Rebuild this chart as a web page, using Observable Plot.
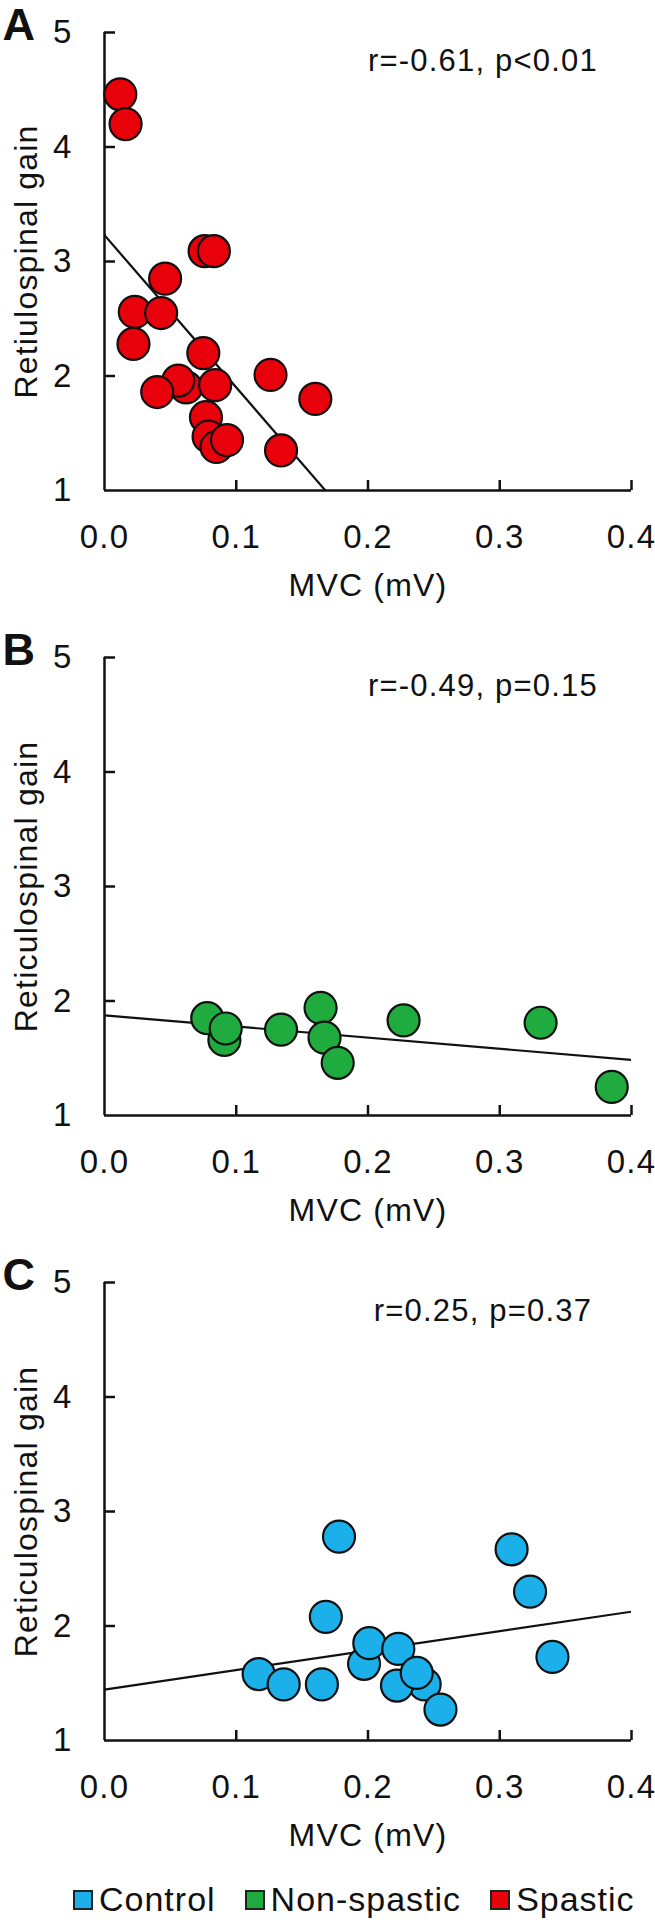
<!DOCTYPE html>
<html>
<head>
<meta charset="utf-8">
<script src="https://cdn.jsdelivr.net/npm/d3@7"></script>
<script src="https://cdn.jsdelivr.net/npm/@observablehq/plot@0.6"></script>
<style>
  html, body { margin: 0; padding: 0; background: #fff; }
  body { width: 655px; font-family: "Liberation Sans", Arial, sans-serif; }
  svg { display: block; }
  #legend { height: 49px; display: flex; align-items: center; padding-left: 73px; font-size: 34px; letter-spacing: 1px; color: #111; white-space: nowrap; }
  .item { display: flex; align-items: center; margin-right: 29px; flex-shrink: 0; }
  .sw { width: 16px; height: 16px; border: 2px solid #222; margin-right: 6px; flex-shrink: 0; }
</style>
</head>
<body>
<div id="chart"></div>
<div id="legend"></div>
<script>
// ---- data ----
const panelLetters = ["A", "B", "C"];
const yLabels = ["Retiulospinal gain", "Reticulospinal gain", "Reticulospinal gain"];
const statsText = ["r=-0.61, p<0.01", "r=-0.49, p=0.15", "r=0.25, p=0.37"];
const groupNames = ["Spastic", "Non-spastic", "Control"];
const groupColors = ["#e8000b", "#1fab3e", "#1cb0ea"];
const legendOrder = ["Control", "Non-spastic", "Spastic"];
const xLabel = "MVC (mV)";
const xTicks = [0, 0.1, 0.2, 0.3, 0.4];
const yTicks = [1, 2, 3, 4, 5];

// Panel A: Spastic
const spasticMVC  = [0.012, 0.016, 0.076, 0.083, 0.046, 0.023, 0.043, 0.022, 0.075, 0.126, 0.062, 0.056, 0.040, 0.084, 0.160, 0.077, 0.079, 0.085, 0.093, 0.134];
const spasticGain = [4.46, 4.20, 3.09, 3.09, 2.85, 2.56, 2.55, 2.28, 2.20, 2.01, 1.90, 1.96, 1.86, 1.92, 1.80, 1.64, 1.47, 1.38, 1.44, 1.35];
// Panel B: Non-spastic
const nonSpasticMVC  = [0.078, 0.091, 0.092, 0.134, 0.164, 0.167, 0.177, 0.227, 0.331, 0.385];
const nonSpasticGain = [1.85, 1.66, 1.76, 1.75, 1.94, 1.68, 1.46, 1.83, 1.81, 1.25];
// Panel C: Control
const controlMVC  = [0.117, 0.136, 0.165, 0.168, 0.178, 0.197, 0.201, 0.243, 0.222, 0.223, 0.237, 0.255, 0.309, 0.323, 0.340];
const controlGain = [1.58, 1.49, 1.49, 2.08, 2.78, 1.67, 1.85, 1.49, 1.48, 1.80, 1.59, 1.27, 2.67, 2.30, 1.73];

// regression lines (intercept, slope)
const lineIntercept = [3.23, 1.875, 1.445];
const lineSlope = [-13.3, -0.975, 1.70];

const panelMVC = [spasticMVC, nonSpasticMVC, controlMVC];
const panelGain = [spasticGain, nonSpasticGain, controlGain];

const font = '"Liberation Sans", Arial, sans-serif';
const chart = document.getElementById("chart");

for (let i = 0; i < 3; i++) {
  const pts = panelMVC[i].map((x, j) => ({x, y: panelGain[i][j]}));
  const fitLine = [0, 0.4].map(x => ({x, y: lineIntercept[i] + lineSlope[i] * x}));
  const color = groupColors[i];
  const svg = Plot.plot({
    width: 655,
    height: 625,
    marginTop: 32,
    marginBottom: 135,
    marginLeft: 104,
    marginRight: 24,
    style: {fontFamily: font, fontSize: "32px", letterSpacing: "1.2px", color: "#111", background: "#fff", overflow: "visible"},
    x: {domain: [0, 0.4]},
    y: {domain: [1, 5]},
    marks: [
      Plot.axisX(xTicks.slice(1), {tickSize: -10, strokeWidth: 2.5, tickFormat: () => "", label: null}),
      Plot.axisX(xTicks, {tickSize: 0, tickPadding: 34, tickFormat: d3.format(".1f"), label: null, fontSize: 33}),
      Plot.axisY(yTicks.slice(1), {tickSize: -11, strokeWidth: 2.5, tickFormat: () => "", label: null}),
      Plot.axisY(yTicks, {tickSize: 0, tickPadding: 32, tickFormat: d3.format("d"), label: null, fontSize: 33}),
      Plot.ruleX([0], {stroke: "#111", strokeWidth: 2.5}),
      Plot.ruleY([1], {stroke: "#111", strokeWidth: 2.5}),
      Plot.line(fitLine, {x: "x", y: "y", stroke: "#111", strokeWidth: 2.2, clip: true}),
      Plot.dot(pts, {x: "x", y: "y", r: 16, fill: color, stroke: "#111", strokeWidth: 2.2}),
      Plot.text([statsText[i]], {frameAnchor: "top", dx: 115, dy: 29, textAnchor: "middle", lineAnchor: "middle", fontSize: 31, fill: "#111"}),
      Plot.text([xLabel], {frameAnchor: "bottom", dy: 95, textAnchor: "middle", lineAnchor: "middle", fontSize: 32, fill: "#111"}),
      Plot.text([yLabels[i]], {frameAnchor: "left", dx: -78, rotate: -90, textAnchor: "middle", lineAnchor: "middle", fontSize: 32, fill: "#111"}),
      Plot.text([panelLetters[i]], {frameAnchor: "top-left", dx: -102, dy: -7, textAnchor: "start", lineAnchor: "middle", fontSize: 45, fontWeight: "bold", fill: "#111", style: "letter-spacing:0"})
    ]
  });
  chart.appendChild(svg);
}

const legend = document.getElementById("legend");
for (const name of legendOrder) {
  const item = document.createElement("div");
  item.className = "item";
  const sw = document.createElement("div");
  sw.className = "sw";
  sw.style.background = groupColors[groupNames.indexOf(name)];
  const label = document.createElement("span");
  label.textContent = name;
  item.appendChild(sw);
  item.appendChild(label);
  legend.appendChild(item);
}
</script>
</body>
</html>
